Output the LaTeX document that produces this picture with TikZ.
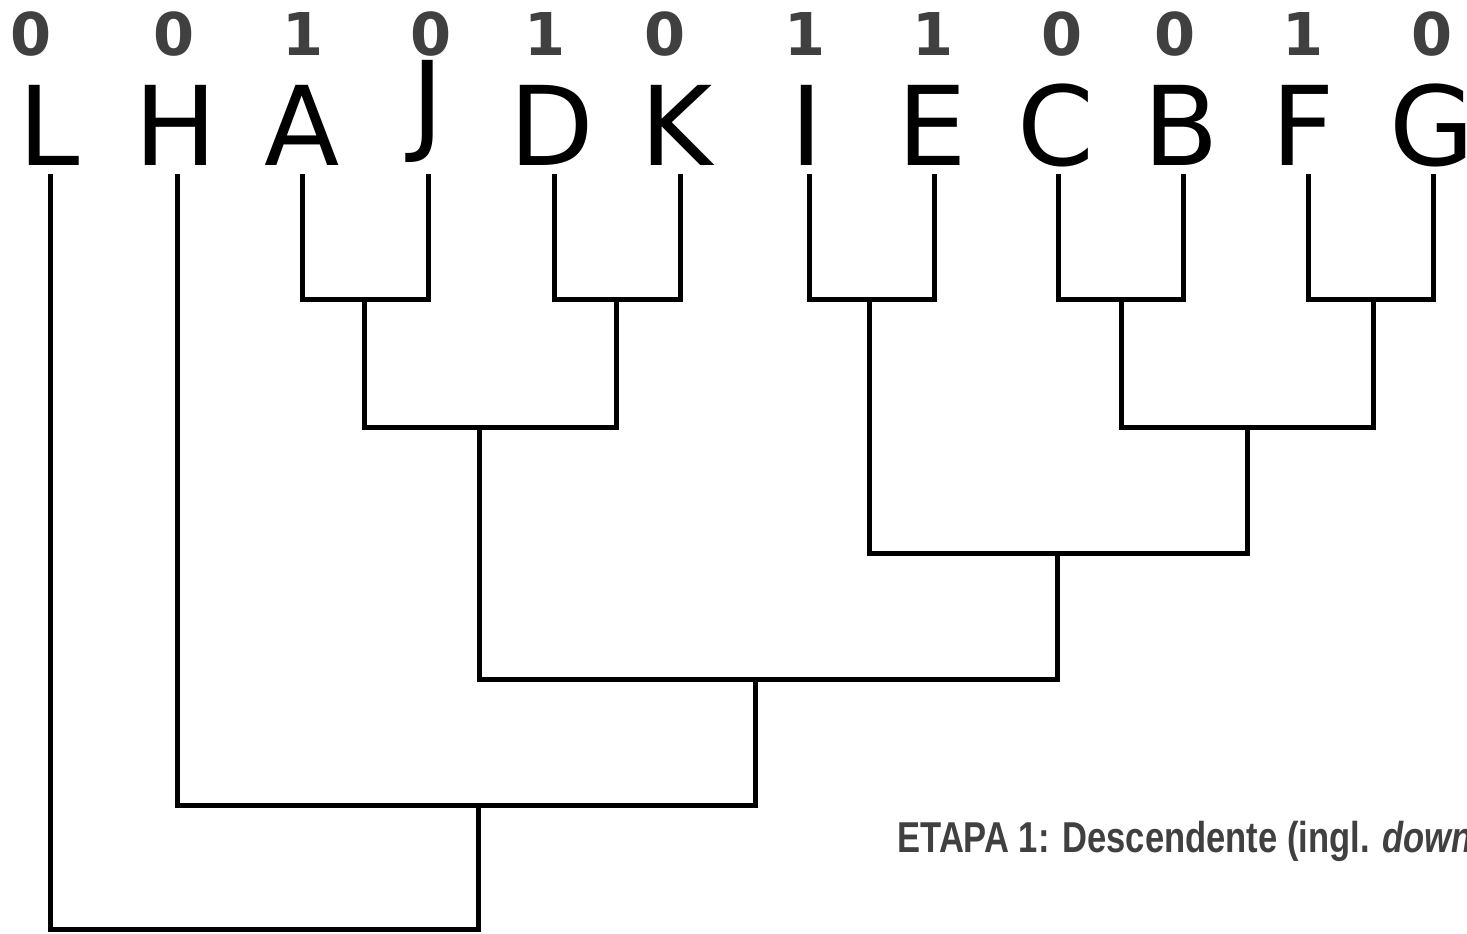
\documentclass[tikz,border=0pt]{standalone}
\usepackage{fontspec}
\newfontfamily\leaffont{DejaVu Sans}
\newfontfamily\bitfont{DejaVu Sans}[BoldFont={DejaVu Sans Bold}]
\newfontfamily\capfont{Liberation Sans}[FakeStretch=0.80]
\definecolor{txtgray}{HTML}{404040}
\tikzset{
  leaf/.style={inner sep=0pt, anchor=base, font=\leaffont\fontsize{55pt}{55pt}\selectfont},
  bit/.style={inner sep=0pt, anchor=base, text=txtgray, font=\bitfont\bfseries\fontsize{29.5pt}{29.5pt}\selectfont},
  branch/.style={line width=2.5pt, line join=miter, line cap=butt, black},
  caption/.style={inner sep=0pt, anchor=base west, text=txtgray, font=\capfont\bfseries\fontsize{21.6pt}{21.6pt}\selectfont}
}
\begin{document}
\begin{tikzpicture}[x=0.5pt,y=-0.5pt]
\useasboundingbox (0,0) rectangle (1467,933);
\clip (0,0) rectangle (1467,933);
% bits
\node[bit] (b1) at (31,55) {0};
\node[bit] (b2) at (174,55) {0};
\node[bit] (b3) at (303,55) {1};
\node[bit] (b4) at (431,55) {0};
\node[bit] (b5) at (545,55) {1};
\node[bit] (b6) at (665,55) {0};
\node[bit] (b7) at (805,55) {1};
\node[bit] (b8) at (933,55) {1};
\node[bit] (b9) at (1062,55) {0};
\node[bit] (b10) at (1175,55) {0};
\node[bit] (b11) at (1303,55) {1};
\node[bit] (b12) at (1432,55) {0};
% leaf labels
\node[leaf] (lL) at (49,165) {L};
\node[leaf] (lH) at (176,165) {H};
\node[leaf] (lA) at (302,165) {A};
\node[leaf, anchor=south] (lJ) at (428,163) {J};
\node[leaf] (lD) at (552,165) {D};
\node[leaf] (lK) at (677,165) {K};
\node[leaf] (lI) at (807,165) {I};
\node[leaf] (lE) at (932,165) {E};
\node[leaf] (lC) at (1056,165) {C};
\node[leaf] (lB) at (1181,165) {B};
\node[leaf] (lF) at (1303,165) {F};
\node[leaf] (lG) at (1432,165) {G};
% leaf tips
\coordinate (tL) at (50.5,174);
\coordinate (tH) at (177,174);
\coordinate (tA) at (302.5,174);
\coordinate (tJ) at (428,174);
\coordinate (tD) at (554.5,174);
\coordinate (tK) at (680,174);
\coordinate (tI) at (809.5,174);
\coordinate (tE) at (934.5,174);
\coordinate (tC) at (1058,174);
\coordinate (tB) at (1183.5,174);
\coordinate (tF) at (1308,174);
\coordinate (tG) at (1433.5,174);
% internal nodes
\coordinate (nAJ) at (364,299.5);
\coordinate (nDK) at (616,299.5);
\coordinate (nIE) at (869.5,299.5);
\coordinate (nCB) at (1121,299.5);
\coordinate (nFG) at (1373,299.5);
\coordinate (nAJDK) at (479,427);
\coordinate (nCBFG) at (1247,427);
\coordinate (nIECBFG) at (1057.5,553.5);
\coordinate (nX) at (755.5,679.5);
\coordinate (nHX) at (478.5,805);
\coordinate (root) at (478.5,929.5);
% branches
\draw[branch] (tA) |- (nAJ) -| (tJ);
\draw[branch] (tD) |- (nDK) -| (tK);
\draw[branch] (tI) |- (nIE) -| (tE);
\draw[branch] (tC) |- (nCB) -| (tB);
\draw[branch] (tF) |- (nFG) -| (tG);
\draw[branch] (nAJ) |- (nAJDK) -| (nDK);
\draw[branch] (nCB) |- (nCBFG) -| (nFG);
\draw[branch] (nIE) |- (nIECBFG) -| (nCBFG);
\draw[branch] (nAJDK) |- (nX) -| (nIECBFG);
\draw[branch] (tH) |- (nHX) -| (nX);
\draw[branch] (tL) |- (root) -- (nHX);
% caption
\node[caption] (cap) at (897,852) {ETAPA 1: Descendente (ingl. \textit{downpass})};
\end{tikzpicture}
\end{document}
